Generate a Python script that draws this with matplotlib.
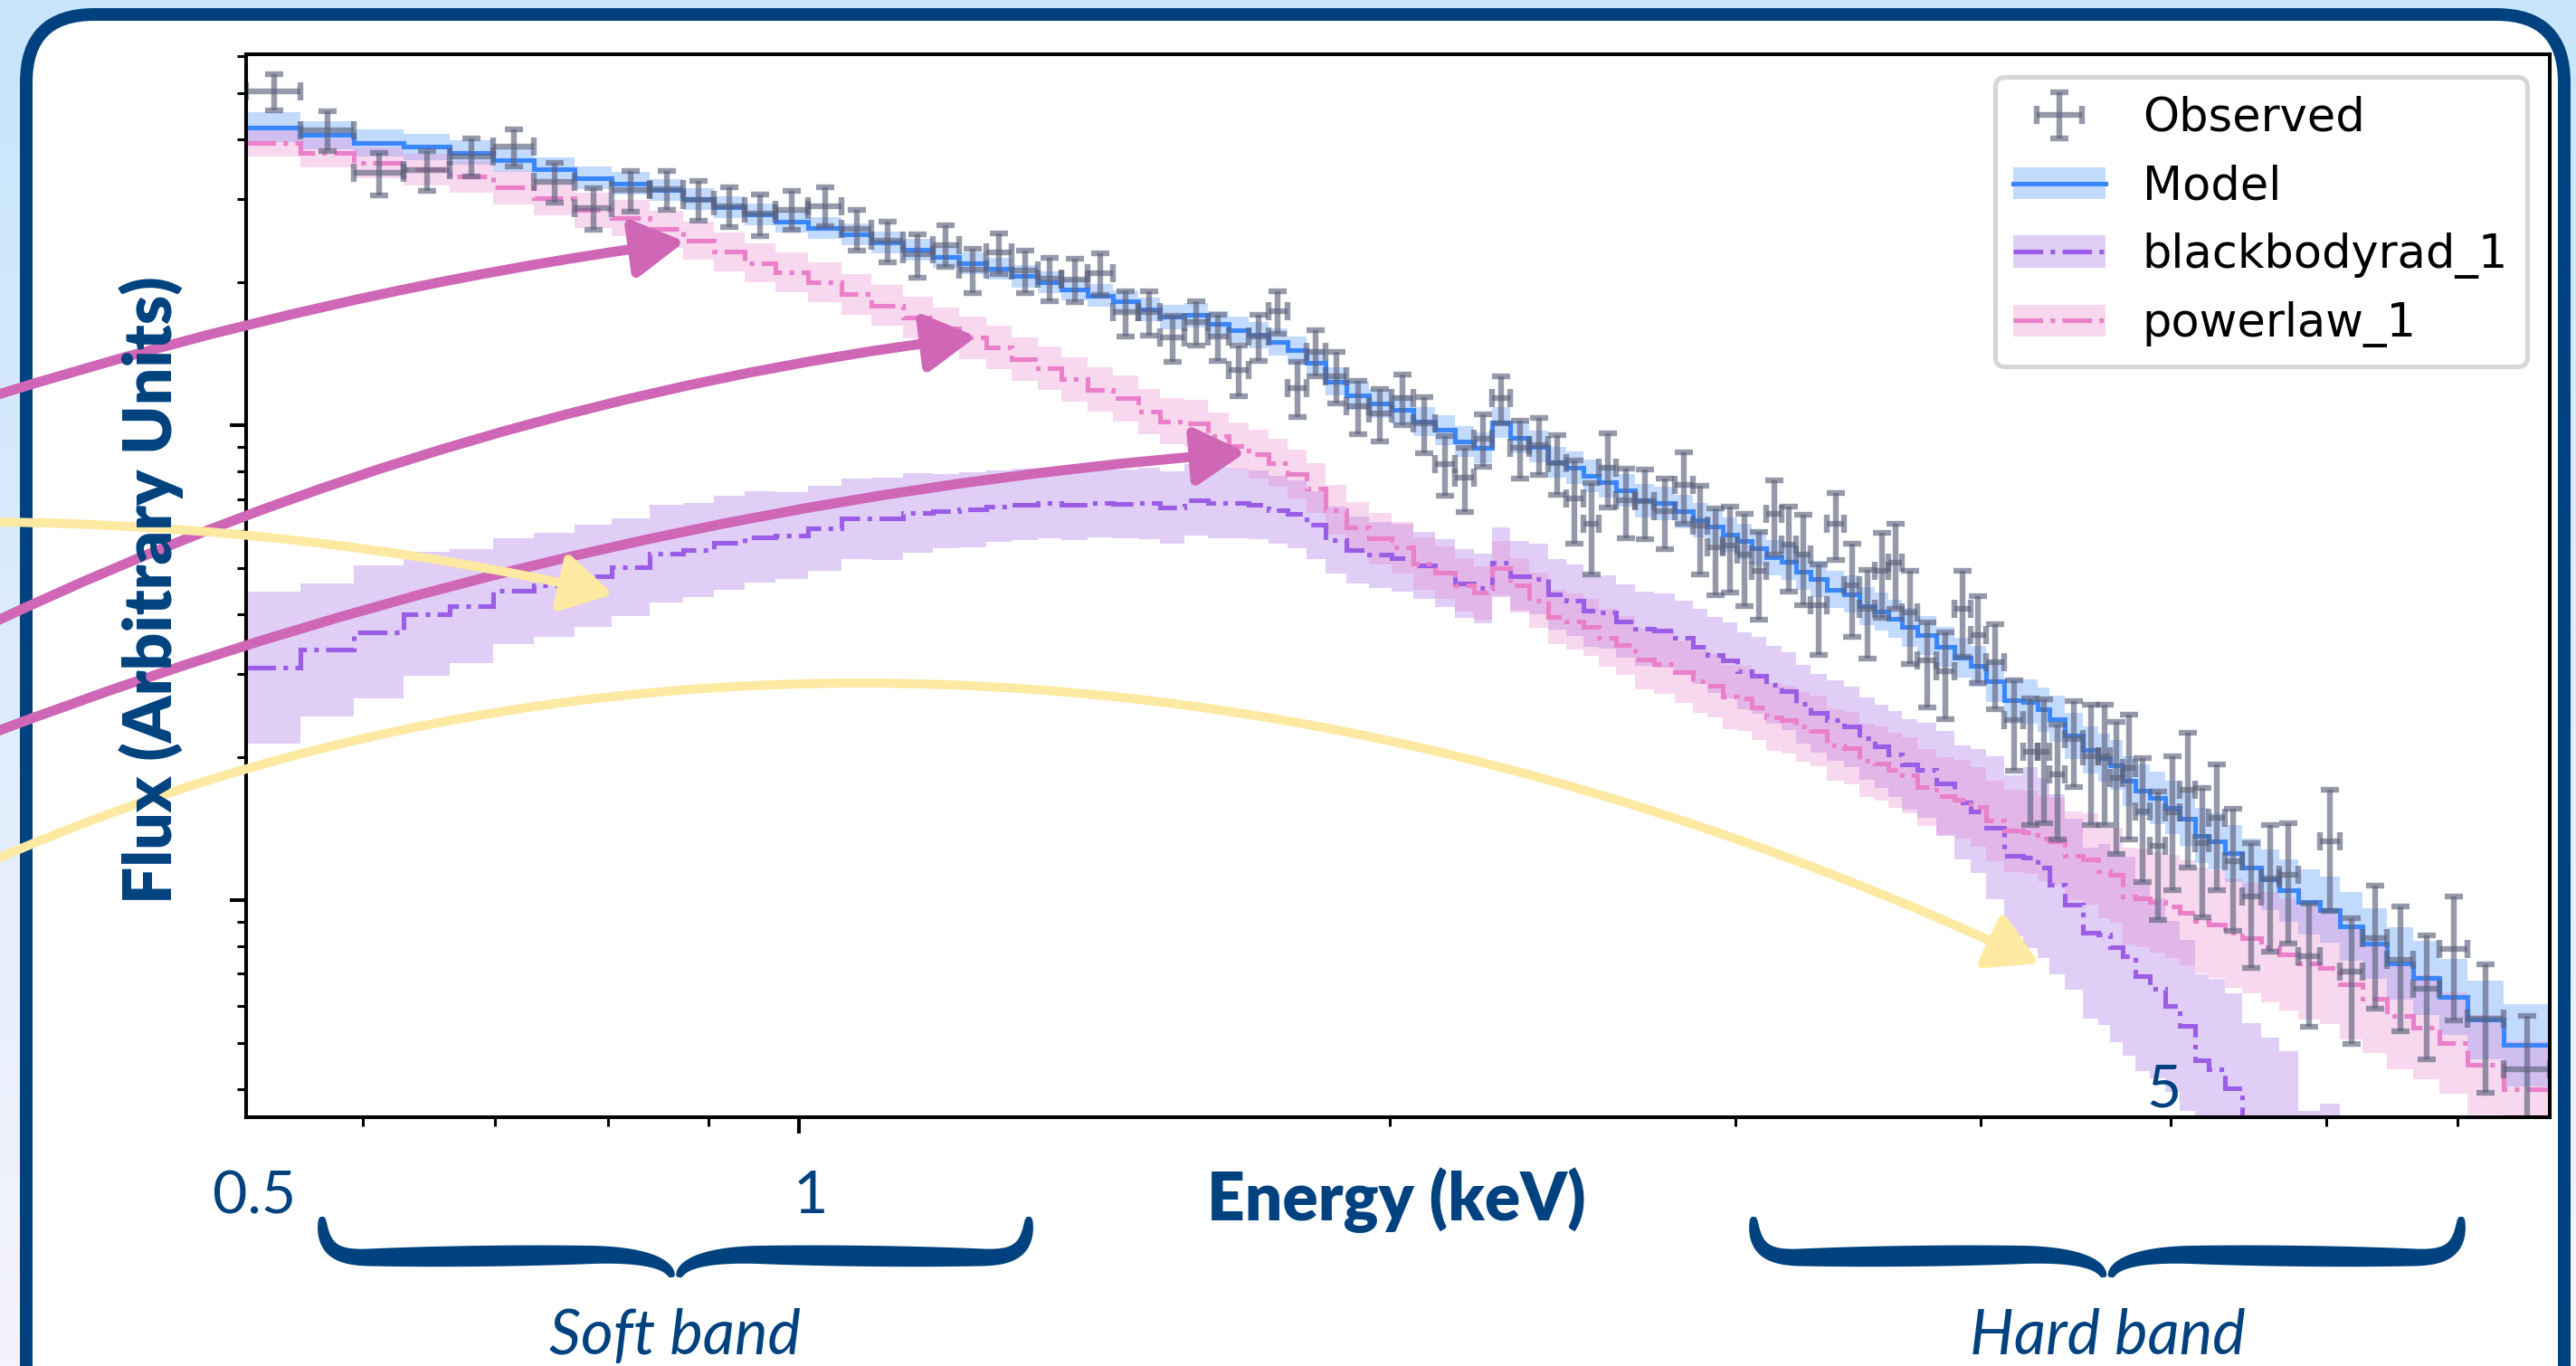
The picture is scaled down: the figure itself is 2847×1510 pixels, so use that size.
import numpy as np
import matplotlib
matplotlib.use("Agg")
import matplotlib.pyplot as plt
from matplotlib.colors import LinearSegmentedColormap
from matplotlib.patches import FancyArrowPatch, FancyBboxPatch, Patch, Polygon
from matplotlib.lines import Line2D
from matplotlib.path import Path

W, H, DPI = 2847, 1510, 367

# --- spectrum data (energy in keV, flux in arbitrary units) ---
energy_edges = [
    0.523, 0.5575, 0.5935, 0.629, 0.664, 0.699, 0.733, 0.769, 0.803, 0.840,
    0.873, 0.905, 0.939, 0.973, 1.011, 1.052, 1.089, 1.130, 1.170, 1.207,
    1.246, 1.284, 1.324, 1.361, 1.404, 1.446, 1.490, 1.528, 1.572, 1.6155,
    1.656, 1.6945, 1.7345, 1.775, 1.814, 1.8555, 1.902, 1.952, 2.004, 2.056,
    2.109, 2.160, 2.2075, 2.255, 2.3045, 2.356, 2.4085, 2.461, 2.510, 2.5575,
    2.6095, 2.667, 2.7285, 2.7945, 2.8545, 2.9045, 2.956, 3.0085, 3.0585, 3.1125,
    3.169, 3.2235, 3.2785, 3.3415, 3.4095, 3.4715, 3.533, 3.5915, 3.649, 3.7155,
    3.7975, 3.881, 3.954, 4.026, 4.1145, 4.2075, 4.2795, 4.339, 4.416, 4.513,
    4.5925, 4.6585, 4.7255, 4.7965, 4.8815, 4.9675, 5.0555, 5.145, 5.2305, 5.326,
    5.4345, 5.557, 5.6765, 5.808, 5.9545, 6.0985, 6.263, 6.4455, 6.644, 6.855,
    7.084, 7.39, 7.80,
]

observed = [
    50.5, 41.9, 34.0, 34.5, 36.9, 38.6, 32.6, 28.7, 31.3, 31.4,
    29.9, 29.0, 27.9, 28.5, 29.0, 25.9, 24.5, 22.9, 24.0, 21.3,
    23.1, 21.2, 20.4, 20.3, 20.9, 17.3, 17.3, 15.3, 16.5, 15.4,
    13.1, 15.4, 17.4, 12.0, 14.3, 12.7, 11.0, 10.6, 11.4, 10.1,
    8.30, 7.76, 9.37, 11.4, 8.97, 9.10, 8.34, 7.03, 6.20, 8.16,
    6.95, 6.92, 6.60, 7.49, 6.15, 5.53, 5.59, 5.34, 4.93, 6.50,
    5.61, 5.34, 4.19, 6.20, 4.61, 4.10, 4.93, 5.15, 4.04, 3.20,
    3.04, 4.10, 3.62, 3.17, 2.39, 2.05, 2.05, 1.84, 2.18, 2.01,
    2.01, 1.81, 1.90, 1.54, 1.30, 1.53, 1.71, 1.32, 1.49, 1.21,
    1.02, 1.11, 1.13, 0.762, 1.33, 0.707, 0.831, 0.749, 0.652, 0.789,
    0.563, 0.441,
]

observed_err = [
    4.5, 4.0, 3.5, 3.3, 3.4, 3.5, 3.2, 2.9, 3.1, 3.0,
    2.9, 2.8, 2.8, 2.7, 2.7, 2.6, 2.4, 2.4, 2.4, 2.3,
    2.3, 2.2, 2.1, 2.1, 2.1, 1.9, 1.85, 1.7, 1.8, 1.7,
    1.6, 1.7, 1.8, 1.6, 1.6, 1.6, 1.4, 1.35, 1.4, 1.35,
    1.2, 1.2, 1.2, 1.3, 1.25, 1.25, 1.2, 1.4, 1.35, 1.45,
    1.17, 1.16, 1.12, 1.29, 1.3, 1.15, 1.15, 1.17, 1.03, 1.15,
    1.15, 1.15, 0.9, 1.0, 1.03, 0.87, 1.0, 1.05, 0.9, 0.65,
    0.63, 0.85, 0.75, 0.64, 0.52, 0.61, 0.6, 0.5, 0.45, 0.57,
    0.57, 0.56, 0.56, 0.45, 0.39, 0.48, 0.54, 0.4, 0.44, 0.35,
    0.3, 0.33, 0.32, 0.22, 0.38, 0.21, 0.24, 0.22, 0.19, 0.23,
    0.17, 0.13,
]

powerlaw = [
    39.4, 37.5, 35.7, 34.6, 33.4, 31.7, 30.1, 28.4, 27.3, 25.9,
    24.5, 23.2, 22.0, 21.0, 20.0, 18.9, 17.9, 16.9, 16.0, 15.3,
    14.6, 13.8, 13.2, 12.5, 11.9, 11.4, 10.7, 10.2, 10.1, 9.5,
    9.05, 8.7, 8.34, 7.9, 7.38, 6.64, 6.1, 5.78, 5.53, 5.12,
    4.89, 4.61, 4.44, 5.0, 4.61, 4.28, 3.95, 3.86, 3.76, 3.57,
    3.44, 3.22, 3.15, 3.02, 2.89, 2.83, 2.68, 2.66, 2.55, 2.43,
    2.40, 2.32, 2.27, 2.12, 2.09, 1.97, 1.94, 1.88, 1.83, 1.73,
    1.66, 1.63, 1.57, 1.47, 1.40, 1.39, 1.35, 1.33, 1.24, 1.22,
    1.15, 1.13, 1.02, 1.01, 0.99, 0.97, 0.94, 0.906, 0.89, 0.853,
    0.831, 0.796, 0.768, 0.736, 0.72, 0.665, 0.62, 0.57, 0.54, 0.50,
    0.45, 0.40,
]

blackbody = [
    3.09, 3.37, 3.67, 4.01, 4.16, 4.48, 4.61, 4.82, 5.03, 5.38,
    5.46, 5.66, 5.82, 5.86, 6.07, 6.36, 6.36, 6.54, 6.61, 6.65,
    6.75, 6.81, 6.85, 6.81, 6.87, 6.83, 6.85, 6.72, 6.97, 6.87,
    6.85, 6.80, 6.64, 6.50, 6.17, 5.74, 5.46, 5.34, 5.26, 5.07,
    4.89, 4.64, 4.54, 5.15, 4.82, 4.75, 4.41, 4.28, 4.07, 4.04,
    3.87, 3.73, 3.70, 3.57, 3.42, 3.29, 3.20, 3.04, 2.97, 2.84,
    2.76, 2.59, 2.48, 2.39, 2.32, 2.19, 2.11, 2.03, 1.93, 1.88,
    1.76, 1.61, 1.54, 1.42, 1.24, 1.23, 1.17, 1.08, 0.98, 0.853,
    0.846, 0.796, 0.762, 0.693, 0.652, 0.598, 0.544, 0.461, 0.441, 0.401,
    0.34, 0.31, 0.28, 0.255, 0.235, 0.215, 0.19, 0.165, 0.145, 0.125,
    0.11, 0.095,
]

# half-width of the shaded uncertainty bands, in dex
model_band_dex = [
    0.032, 0.030, 0.028, 0.027, 0.026, 0.025, 0.025, 0.024, 0.024, 0.023,
    0.023, 0.023, 0.023, 0.023, 0.023, 0.023, 0.023, 0.023, 0.023, 0.023,
    0.023, 0.023, 0.023, 0.023, 0.024, 0.024, 0.025, 0.025, 0.026, 0.026,
    0.027, 0.027, 0.028, 0.028, 0.029, 0.029, 0.030, 0.030, 0.031, 0.031,
    0.032, 0.032, 0.032, 0.033, 0.033, 0.033, 0.033, 0.034, 0.034, 0.034,
    0.034, 0.035, 0.035, 0.035, 0.036, 0.036, 0.036, 0.037, 0.037, 0.037,
    0.038, 0.038, 0.038, 0.039, 0.039, 0.040, 0.040, 0.040, 0.041, 0.041,
    0.042, 0.042, 0.043, 0.044, 0.045, 0.046, 0.047, 0.048, 0.049, 0.050,
    0.051, 0.052, 0.053, 0.054, 0.055, 0.056, 0.057, 0.058, 0.059, 0.060,
    0.062, 0.064, 0.066, 0.068, 0.070, 0.072, 0.074, 0.076, 0.078, 0.080,
    0.083, 0.087,
]

bb_band_dex = [
    0.160, 0.140, 0.140, 0.130, 0.120, 0.112, 0.110, 0.108, 0.103, 0.103,
    0.099, 0.099, 0.096, 0.092, 0.090, 0.085, 0.087, 0.083, 0.078, 0.079,
    0.075, 0.075, 0.074, 0.074, 0.073, 0.072, 0.076, 0.076, 0.076, 0.075,
    0.074, 0.073, 0.072, 0.072, 0.071, 0.070, 0.070, 0.070, 0.071, 0.071,
    0.072, 0.072, 0.073, 0.073, 0.074, 0.074, 0.075, 0.075, 0.076, 0.077,
    0.077, 0.078, 0.078, 0.079, 0.079, 0.080, 0.080, 0.081, 0.081, 0.082,
    0.082, 0.083, 0.083, 0.084, 0.085, 0.086, 0.088, 0.090, 0.095, 0.100,
    0.110, 0.120, 0.130, 0.150, 0.170, 0.190, 0.190, 0.190, 0.180, 0.180,
    0.190, 0.200, 0.210, 0.200, 0.190, 0.180, 0.180, 0.180, 0.190, 0.200,
    0.210, 0.220, 0.235, 0.150, 0.200, 0.180, 0.180, 0.180, 0.180, 0.180,
    0.180, 0.180,
]

pl_band_dex = [
    0.030, 0.031, 0.032, 0.033, 0.034, 0.035, 0.036, 0.037, 0.038, 0.039,
    0.040, 0.041, 0.041, 0.042, 0.042, 0.043, 0.043, 0.044, 0.044, 0.045,
    0.045, 0.046, 0.046, 0.047, 0.047, 0.048, 0.048, 0.049, 0.049, 0.050,
    0.050, 0.051, 0.051, 0.052, 0.052, 0.053, 0.053, 0.054, 0.054, 0.055,
    0.055, 0.056, 0.056, 0.057, 0.057, 0.058, 0.058, 0.059, 0.060, 0.061,
    0.062, 0.063, 0.064, 0.065, 0.066, 0.067, 0.068, 0.069, 0.070, 0.071,
    0.072, 0.073, 0.074, 0.075, 0.076, 0.077, 0.078, 0.079, 0.080, 0.081,
    0.082, 0.083, 0.084, 0.085, 0.086, 0.088, 0.090, 0.092, 0.094, 0.096,
    0.098, 0.100, 0.102, 0.104, 0.106, 0.108, 0.110, 0.112, 0.114, 0.115,
    0.116, 0.117, 0.118, 0.118, 0.118, 0.117, 0.115, 0.112, 0.110, 0.107,
    0.104, 0.100,
]

series_labels = ["Observed", "Model", "blackbodyrad_1", "powerlaw_1"]

NAVY = "#00427f"
BLUE = "#3a86ff"
PURPLE = "#9b5de5"
PINK = "#eb80ca"
GRAY = "#5d637c"
ARROW_PINK = "#cf66b6"
ARROW_YELLOW = "#fde9a1"
TEXT_FONT = ["Lato", "DejaVu Sans"]


def px(v):
    # pixels -> points at the output dpi
    return v * 72.0 / DPI


fig = plt.figure(figsize=(W / DPI, H / DPI), dpi=DPI)

# --- background card ---
bg = fig.add_axes([0, 0, 1, 1], zorder=0)
bg.axis("off")
grad = np.linspace(0, 1, 256)[:, None]
bg.imshow(grad, extent=(0, W, H, 0), aspect="auto",
          cmap=LinearSegmentedColormap.from_list("bg", ["#c7e5fb", "#f5f4fd"]))
bg.set_xlim(0, W)
bg.set_ylim(H, 0)
bg.add_patch(FancyBboxPatch((29, 16), 2805, 1700,
                            boxstyle="round,pad=0,rounding_size=75",
                            fc="white", ec=NAVY, lw=px(14)))

# --- spectrum axes ---
ax = fig.add_axes([272 / W, 1 - 1235 / H, (2818 - 272) / W, (1235 - 60) / H], zorder=1)
ax.set_xscale("log")
ax.set_yscale("log")

edges = np.array(energy_edges)
pl = np.array(powerlaw)
bb = np.array(blackbody)
model = pl + bb

for vals, dex, col in [(model, model_band_dex, BLUE),
                       (bb, bb_band_dex, PURPLE),
                       (pl, pl_band_dex, PINK)]:
    f = 10 ** np.array(dex)
    ax.stairs(vals * f, edges, baseline=vals / f, fill=True, color=col, alpha=0.3, lw=0)

ax.stairs(model, edges, baseline=None, color=BLUE, lw=1.0)
ax.stairs(bb, edges, baseline=None, color=PURPLE, lw=1.0, ls="-.")
ax.stairs(pl, edges, baseline=None, color=PINK, lw=1.0, ls="-.")

centers = 0.5 * (edges[1:] + edges[:-1])
half = 0.5 * np.diff(edges)
eb = ax.errorbar(centers, observed, xerr=half, yerr=observed_err, fmt="none",
                 ecolor=GRAY, elinewidth=1.25, capsize=2, capthick=1.25, alpha=0.65)

ax.set_xlim(0.523, 7.80)
ax.set_ylim(0.349, 60.5)
ax.tick_params(which="both", labelbottom=False, labelleft=False)

handles = [
    eb,
    (Patch(fc=BLUE, alpha=0.3, lw=0), Line2D([], [], color=BLUE, lw=1.0)),
    (Patch(fc=PURPLE, alpha=0.3, lw=0), Line2D([], [], color=PURPLE, lw=1.0, ls="-.")),
    (Patch(fc=PINK, alpha=0.3, lw=0), Line2D([], [], color=PINK, lw=1.0, ls="-.")),
]
ax.legend(handles, series_labels, loc="upper right")

# --- annotation layer (pixel coordinates, y down) ---
ov = fig.add_axes([0, 0, 1, 1], zorder=3)
ov.axis("off")
ov.set_xlim(0, W)
ov.set_ylim(H, 0)


def curved_arrow(pts, color, width):
    codes = [Path.MOVETO] + [Path.CURVE3 if len(pts) == 3 else Path.CURVE4] * (len(pts) - 1)
    ov.add_patch(FancyArrowPatch(path=Path(pts, codes),
                                 arrowstyle="-|>,head_length=0.42,head_width=0.24",
                                 mutation_scale=22, color=color, lw=px(width)))


curved_arrow([(-5, 437), (370, 320), (757, 267)], ARROW_PINK, 11)
curved_arrow([(-5, 687), (513, 443), (1079, 372)], ARROW_PINK, 11)
curved_arrow([(-5, 809), (666, 556), (1377, 500)], ARROW_PINK, 11)
curved_arrow([(-5, 577), (342, 581), (678, 657)], ARROW_YELLOW, 10)
curved_arrow([(-5, 950), (650, 665), (1440, 685), (2254, 1065)], ARROW_YELLOW, 10)


def bezier(p0, p1, p2, p3, n=40):
    t = np.linspace(0, 1, n)[:, None]
    return ((1 - t) ** 3 * p0 + 3 * (1 - t) ** 2 * t * p1
            + 3 * (1 - t) * t ** 2 * p2 + t ** 3 * p3)


def draw_brace(x0, x1, y_tip, y_arm, y_mid, r_tip=50, r_mid=90, w_max=23, w_min=4):
    xc = 0.5 * (x0 + x1)
    for xt in (x0, x1):
        s = 1 if xt < xc else -1
        a = bezier(np.array([xt, y_tip]), np.array([xt, y_tip + 0.8 * (y_arm - y_tip)]),
                   np.array([xt + s * 0.3 * r_tip, y_arm]), np.array([xt + s * r_tip, y_arm]))
        b = np.linspace([xt + s * r_tip, y_arm], [xc - s * r_mid, y_arm - 3], 40)
        c = bezier(np.array([xc - s * r_mid, y_arm - 3]), np.array([xc - s * 0.35 * r_mid, y_arm - 3]),
                   np.array([xc - s * 0.06 * r_mid, y_arm + 0.35 * (y_mid - y_arm)]),
                   np.array([xc - s * 4, y_mid]))
        pts = np.vstack([a, b[1:], c[1:]])
        seg = np.hypot(*np.diff(pts, axis=0).T)
        u = np.clip(np.concatenate([[0], np.cumsum(seg)]) / seg.sum(), 0, 1)
        w = w_min + (w_max - w_min) * np.clip(np.sin(np.pi * u), 0, 1) ** 0.4
        d = np.gradient(pts, axis=0)
        d /= np.hypot(d[:, 0], d[:, 1])[:, None]
        nrm = np.column_stack([-d[:, 1], d[:, 0]])
        poly = np.vstack([pts + nrm * w[:, None] / 2, (pts - nrm * w[:, None] / 2)[::-1]])
        ov.add_patch(Polygon(poly, closed=True, fc=NAVY, ec="none"))


draw_brace(356, 1137, 1345, 1390, 1412)
draw_brace(1938, 2720, 1345, 1390, 1412)

ov.text(746, 1497, "Soft band", ha="center", va="baseline", fontsize=13.5,
        style="italic", color=NAVY, family=TEXT_FONT)
ov.text(2329, 1497, "Hard band", ha="center", va="baseline", fontsize=13.5,
        style="italic", color=NAVY, family=TEXT_FONT)

for x, y, s in [(281, 1341, "0.5"), (896, 1341, "1"), (2392, 1223, "5")]:
    ov.text(x, y, s, ha="center", va="baseline", fontsize=13,
            color=NAVY, family=TEXT_FONT)

ov.text(1543, 1349, "Energy (keV)", ha="center", va="baseline", fontsize=14.3,
        fontweight="heavy", color=NAVY, family=TEXT_FONT)
ov.text(167, 652, "Flux (Arbitrary Units)", ha="center", va="center", rotation=90,
        fontsize=14.3, fontweight="heavy", color=NAVY, family=TEXT_FONT)

fig.savefig("out.png", dpi=DPI)
